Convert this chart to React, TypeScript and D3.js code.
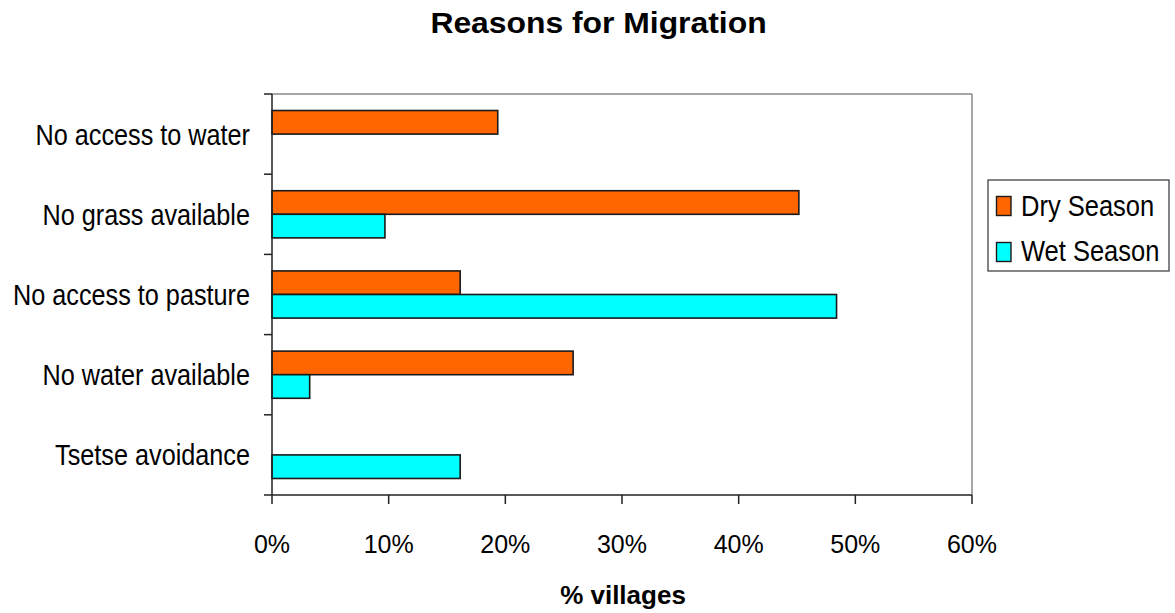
import React from "react";
import * as d3 from "d3";

const categories = [
  "No access to water",
  "No grass available",
  "No access to pasture",
  "No water available",
  "Tsetse avoidance",
];
const seriesNames = ["Dry Season", "Wet Season"];
const drySeason = [19.35, 45.16, 16.13, 25.81, 0];
const wetSeason = [0, 9.68, 48.39, 3.23, 16.13];
const xTicks = [0, 10, 20, 30, 40, 50, 60];
const colors = ["#FF6600", "#00FFFF"];

const W = 1175;
const H = 613;
const L = 272, R = 972, T = 94, B = 495;
const FONT = "'Liberation Sans', Arial, Helvetica, sans-serif";

export default function App() {
  const x = d3.scaleLinear().domain([0, 60]).range([L, R]);
  const y = d3.scaleBand<string>().domain(categories).range([T, B]).padding(0);
  const inner = d3
    .scaleBand<string>()
    .domain(seriesNames)
    .range([0, y.bandwidth()])
    .paddingInner(0)
    .paddingOuter(0.7);
  const series = [drySeason, wetSeason];
  const boundaries = categories.map((c) => y(c)!).concat([B]);

  return (
    <svg
      width={W}
      height={H}
      style={{ position: "absolute", left: 0, top: 0, background: "#fff" }}
      fontFamily={FONT}
    >
      <rect x={0} y={0} width={W} height={H} fill="#fff" />
      <text
        transform={`translate(${(L + R) / 2 - 23.5}, 33) scale(1.08,1)`}
        textAnchor="middle"
        fontSize={29.5}
        fontWeight="bold"
        fill="#000"
      >
        Reasons for Migration
      </text>

      {/* plot border */}
      <line x1={L} x2={R} y1={T} y2={T} stroke="#888" strokeWidth={1.5} />
      <line x1={R} x2={R} y1={T} y2={B} stroke="#888" strokeWidth={1.5} />

      {/* bars */}
      {categories.map((c, i) =>
        seriesNames.map((s, j) => {
          const v = series[j][i];
          if (!v) return null;
          return (
            <rect
              key={c + s}
              x={x(0)}
              y={y(c)! + inner(s)!}
              width={x(v) - x(0)}
              height={inner.bandwidth()}
              fill={colors[j]}
              stroke="#1a1a1a"
              strokeWidth={1.6}
            />
          );
        })
      )}

      {/* axes */}
      <line x1={L} x2={L} y1={T} y2={B} stroke="#222" strokeWidth={1.5} />
      <line x1={L} x2={R} y1={B} y2={B} stroke="#222" strokeWidth={1.5} />
      {boundaries.map((b, i) => (
        <line key={"yt" + i} x1={L - 8} x2={L} y1={b} y2={b} stroke="#222" strokeWidth={1.5} />
      ))}
      {xTicks.map((t) => (
        <g key={"xt" + t}>
          <line x1={x(t)} x2={x(t)} y1={B} y2={B + 9} stroke="#222" strokeWidth={1.5} />
          <text x={x(t)} y={553} textAnchor="middle" fontSize={25} fill="#000">
            {t + "%"}
          </text>
        </g>
      ))}

      {categories.map((c) => (
        <text
          key={"yl" + c}
          transform={`translate(250, ${y(c)! + y.bandwidth() / 2 + 10.5}) scale(0.87,1)`}
          textAnchor="end"
          fontSize={29}
          fill="#000"
        >
          {c}
        </text>
      ))}

      <text x={(L + R) / 2 + 1} y={604} textAnchor="middle" fontSize={26} fontWeight="bold" fill="#000">
        % villages
      </text>

      {/* legend */}
      <rect x={988} y={180} width={181} height={91} fill="#fff" stroke="#333" strokeWidth={1.2} />
      {seriesNames.map((s, j) => (
        <g key={"lg" + s}>
          <rect
            x={996.5}
            y={196.5 + j * 46}
            width={14.5}
            height={19}
            fill={colors[j]}
            stroke="#1a1a1a"
            strokeWidth={1.4}
          />
          <text
            transform={`translate(1021, ${216 + j * 45}) scale(0.85,1)`}
            fontSize={30}
            fill="#000"
          >
            {s}
          </text>
        </g>
      ))}
    </svg>
  );
}
